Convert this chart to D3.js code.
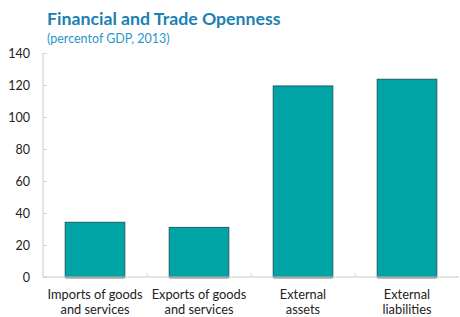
<!DOCTYPE html>
<html><head><meta charset="utf-8">
<script src="https://cdn.jsdelivr.net/npm/d3@7"></script>
<style>body{margin:0;background:#fff}svg{display:block}</style>
</head><body>
<script>
const categories = [["Imports of goods","and services"],["Exports of goods","and services"],["External","assets"],["External","liabilities"]];
const values = [34.2, 31, 119.4, 123.6];
const yTicks = [0,20,40,60,80,100,120,140];
const title = "Financial and Trade Openness";
const subtitle = "(percentof GDP, 2013)";

const W=460,H=317;
const m={left:43,right:459,top:53,bottom:277};
const svg=d3.select("body").append("svg").attr("width",W).attr("height",H);
const font="Lato, 'Open Sans', sans-serif";

svg.append("text").attr("x",47).attr("y",25).attr("font-family",font).attr("font-weight","bold")
  .attr("font-size",17.7).attr("fill","#1b80b3").text(title);
svg.append("text").attr("x",47).attr("y",43).attr("font-family",font)
  .attr("font-size",12.5).attr("fill","#2a96cc").text(subtitle);

const x=d3.scaleBand().domain(d3.range(categories.length)).range([m.left,m.right]).paddingInner(0.427).paddingOuter(0.2135);
const y=d3.scaleLinear().domain([0,140]).range([m.bottom,m.top]);

// y axis
const ya=svg.append("g").attr("transform",`translate(${m.left},0)`)
  .call(d3.axisLeft(y).tickValues(yTicks).tickSize(-4).tickPadding(13));
ya.select(".domain").attr("stroke","#c8c8c8").attr("d",`M0,${m.top}V${m.bottom}`);
ya.selectAll(".tick line").attr("stroke","#d8d8d8");
ya.selectAll(".tick text").attr("font-family",font).attr("font-size",12.5).attr("fill","#222");

// bars
svg.selectAll("rect.shadow").data(values).join("rect").attr("class","shadow")
  .attr("x",(d,i)=>x(i)).attr("width",x.bandwidth()).attr("y",y(0)).attr("height",2).attr("fill","#c0c0c0");
svg.selectAll("rect.bar").data(values).join("rect").attr("class","bar")
  .attr("x",(d,i)=>x(i)).attr("width",x.bandwidth()).attr("y",d=>y(d)).attr("height",d=>y(0)-y(d))
  .attr("fill","#00a3a6").attr("stroke","#1f5e62").attr("stroke-width",1);

// x axis
const step=x.step();
const xa=svg.append("g");
xa.append("line").attr("x1",m.left).attr("x2",m.right).attr("y1",y(0)).attr("y2",y(0)).attr("stroke","#c8c8c8");
d3.range(1,categories.length).forEach(i=>{
  const bx=x(i)-x.paddingInner()*step/2;
  xa.append("line").attr("x1",bx).attr("x2",bx).attr("y1",y(0)).attr("y2",y(0)-4).attr("stroke","#d8d8d8");
});
categories.forEach((c,i)=>{
  const t=xa.append("text").attr("x",x(i)+x.bandwidth()/2).attr("y",299).attr("text-anchor","middle")
    .attr("font-family",font).attr("font-size",12.8).attr("fill","#222");
  c.forEach((line,j)=>t.append("tspan").attr("x",x(i)+x.bandwidth()/2).attr("dy",j?15:0).text(line));
});
</script>
</body></html>
